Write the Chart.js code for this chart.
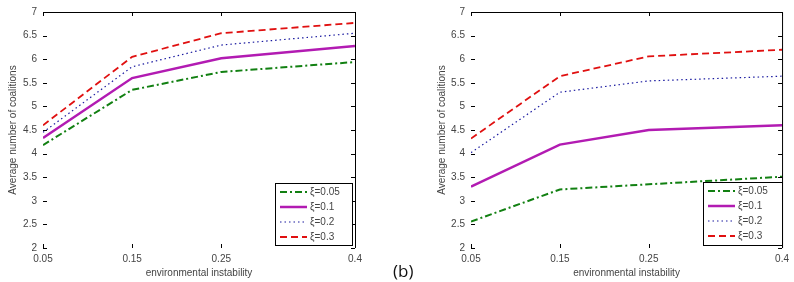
<!DOCTYPE html>
<html>
<head>
<meta charset="utf-8">
<script src="https://cdn.jsdelivr.net/npm/chart.js@4/dist/chart.umd.min.js"></script>
<style>
  html, body { margin: 0; padding: 0; background: #fff; }
  #wrap { position: relative; width: 794px; height: 282px; overflow: hidden; }
  .cv { position: absolute; top: 0; }
  #lab { position: absolute; left: 393px; top: 259px; font: 17px "Open Sans", "Liberation Sans", sans-serif; color: #111; }
</style>
</head>
<body>
<div id="wrap">
  <div class="cv" style="left:0;width:397px;height:282px"><canvas id="c1"></canvas></div>
  <div class="cv" style="left:397px;width:397px;height:282px"><canvas id="c2"></canvas></div>
  <div id="lab">(b)</div>
</div>
<script>
// ---- data ----
const xValues = [0.05, 0.15, 0.25, 0.4];
const xTickValues = [0.05, 0.15, 0.25, 0.4];
const yMin = 2, yMax = 7, yStep = 0.5;
const seriesLabels = ["ξ=0.05", "ξ=0.1", "ξ=0.2", "ξ=0.3"];

const leftXi005 = [4.18, 5.35, 5.73, 5.94];
const leftXi01  = [4.33, 5.60, 6.02, 6.28];
const leftXi02  = [4.45, 5.84, 6.30, 6.55];
const leftXi03  = [4.60, 6.05, 6.55, 6.77];

const rightXi005 = [2.56, 3.24, 3.35, 3.51];
const rightXi01  = [3.30, 4.19, 4.50, 4.60];
const rightXi02  = [4.02, 5.30, 5.54, 5.64];
const rightXi03  = [4.32, 5.64, 6.06, 6.20];

const xTitle = "environmental instability";
const yTitle = "Average number of coalitions";

// ---- styles ----
const styles = [
  { color: "#128012", width: 2, dash: [7, 3, 2, 3] },
  { color: "#b21bb2", width: 2.5, dash: [] },
  { color: "#1a1aa0", width: 1.2, dash: [1.5, 3] },
  { color: "#e01010", width: 1.8, dash: [7, 4] }
];
const textColor = "#444";
const fontFam = "'Liberation Sans', 'DejaVu Sans', sans-serif";

function makeDatasets(arrs) {
  return arrs.map((vals, i) => ({
    label: seriesLabels[i],
    data: xValues.map((x, j) => ({ x: x, y: vals[j] })),
    borderColor: styles[i].color,
    borderWidth: styles[i].width,
    borderDash: styles[i].dash,
    pointRadius: 0,
    fill: false,
    tension: 0
  }));
}

const framePlugin = {
  id: "frame",
  afterDraw(chart, args, opts) {
    const { ctx, chartArea: a, scales } = chart;
    ctx.save();
    ctx.strokeStyle = "#000";
    ctx.lineWidth = 1;
    // top and right border
    ctx.beginPath();
    ctx.moveTo(a.left, a.top + 0.5);
    ctx.lineTo(a.right + 0.5, a.top + 0.5);
    ctx.lineTo(a.right + 0.5, a.bottom);
    ctx.stroke();
    // inward ticks
    ctx.beginPath();
    scales.y.ticks.forEach(t => {
      const y = Math.round(scales.y.getPixelForValue(t.value)) + 0.5;
      ctx.moveTo(a.left, y); ctx.lineTo(a.left + 4, y);
      ctx.moveTo(a.right, y); ctx.lineTo(a.right - 4, y);
    });
    scales.x.ticks.forEach(t => {
      const x = Math.round(scales.x.getPixelForValue(t.value)) + 0.5;
      ctx.moveTo(x, a.bottom); ctx.lineTo(x, a.bottom - 4);
      ctx.moveTo(x, a.top); ctx.lineTo(x, a.top + 4);
    });
    ctx.stroke();
    // legend
    const L = opts.box;
    ctx.fillStyle = "#fff";
    ctx.fillRect(L.x, L.y, L.w, L.h);
    ctx.strokeStyle = "#000";
    ctx.strokeRect(L.x + 0.5, L.y + 0.5, L.w, L.h);
    chart.data.datasets.forEach((ds, i) => {
      const yy = L.y + 9 + i * 15;
      ctx.beginPath();
      ctx.strokeStyle = ds.borderColor;
      ctx.lineWidth = ds.borderWidth;
      ctx.setLineDash(ds.borderDash);
      ctx.moveTo(L.x + 5, yy);
      ctx.lineTo(L.x + 32, yy);
      ctx.stroke();
      ctx.setLineDash([]);
      ctx.fillStyle = textColor;
      ctx.font = "10px " + fontFam;
      ctx.textBaseline = "middle";
      ctx.textAlign = "left";
      ctx.fillText(ds.label, L.x + 35, yy);
    });
    ctx.restore();
  }
};

function makeChart(id, arrs, yWidth, rightPad, yTitlePad, legendBox) {
  return new Chart(document.getElementById(id), {
    type: "line",
    data: { datasets: makeDatasets(arrs) },
    plugins: [framePlugin],
    options: {
      responsive: true,
      maintainAspectRatio: false,
      animation: false,
      layout: { padding: { top: 6, right: rightPad, left: 0, bottom: 0 } },
      plugins: { legend: { display: false }, tooltip: { enabled: false }, frame: { box: legendBox } },
      scales: {
        x: {
          type: "linear",
          min: 0.05, max: 0.4,
          afterBuildTicks: s => { s.ticks = xTickValues.map(v => ({ value: v })); },
          afterFit: s => { s.height = 34; },
          grid: { display: false, drawTicks: false },
          border: { display: false },
          ticks: { padding: 5, color: textColor, font: { size: 10, family: fontFam }, maxRotation: 0,
                   callback: v => String(Number(v)) },
          title: { display: true, text: xTitle, color: textColor, font: { size: 10, family: fontFam },
                   padding: { top: 0, bottom: 3 } }
        },
        y: {
          min: yMin, max: yMax,
          ticks: { stepSize: yStep, padding: 6, color: textColor, font: { size: 10, family: fontFam },
                   callback: v => String(Number(v)) },
          afterFit: s => { s.width = yWidth; },
          grid: { display: false, drawTicks: false },
          border: { display: false },
          title: { display: true, text: yTitle, color: textColor, font: { size: 10, family: fontFam },
                   padding: { top: yTitlePad, bottom: 0 } }
        }
      }
    }
  });
}

makeChart("c1", [leftXi005, leftXi01, leftXi02, leftXi03], 43, 42, 7,
          { x: 275, y: 183, w: 77, h: 62 });
makeChart("c2", [rightXi005, rightXi01, rightXi02, rightXi03], 74, 11, 39,
          { x: 306, y: 182, w: 79, h: 63 });
</script>
</body>
</html>
